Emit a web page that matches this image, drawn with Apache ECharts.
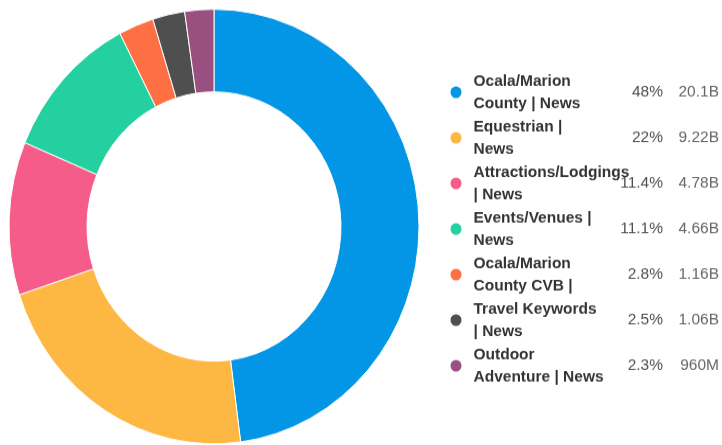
<!DOCTYPE html>
<html>
<head>
<meta charset="utf-8">
<script src="https://cdn.jsdelivr.net/npm/echarts@6/dist/echarts.min.js"></script>
<style>
  html, body { margin: 0; padding: 0; background: #fff; overflow: hidden; }
  #wrap { width: 722px; height: 445px; position: relative; }
  #chart { width: 722px; height: 420px; transform: scaleY(1.06); transform-origin: 0 0; }
</style>
</head>
<body>
<div id="wrap"><div id="chart"></div></div>
<script>
const categories = [
  'Ocala/Marion County | News',
  'Equestrian | News',
  'Attractions/Lodgings | News',
  'Events/Venues | News',
  'Ocala/Marion County CVB | News',
  'Travel Keywords | News',
  'Outdoor Adventure | News'
];
const displayNames = [
  'Ocala/Marion\nCounty | News',
  'Equestrian |\nNews',
  'Attractions/Lodgings\n| News',
  'Events/Venues |\nNews',
  'Ocala/Marion\nCounty CVB |',
  'Travel Keywords\n| News',
  'Outdoor\nAdventure | News'
];
const values = [20.1e9, 9.22e9, 4.78e9, 4.66e9, 1.16e9, 1.06e9, 0.96e9];
const valueLabels = ['20.1B', '9.22B', '4.78B', '4.66B', '1.16B', '1.06B', '960M'];
const pctLabels = ['48%', '22%', '11.4%', '11.1%', '2.8%', '2.5%', '2.3%'];
const colors = ['#0395e6', '#fdb844', '#f55c8a', '#24d09f', '#fe7043', '#4f4f4f', '#994f80'];

const chart = echarts.init(document.getElementById('chart'), null, { renderer: 'canvas' });
const idx = n => categories.indexOf(n);
const FONT = 'Liberation Sans, Arial, sans-serif';

chart.setOption({
  animation: false,
  color: colors,
  legend: [
    {
      orient: 'vertical',
      left: 443.5,
      top: 61,
      itemWidth: 25,
      itemHeight: 13,
      itemGap: 1,
      icon: 'circle',
      selectedMode: false,
      data: categories,
      formatter: n => displayNames[idx(n)],
      textStyle: {
        fontFamily: FONT,
        fontSize: 15.5,
        fontWeight: 'bold',
        color: '#333',
        lineHeight: 21
      }
    },
    {
      orient: 'vertical',
      left: 603,
      top: 61,
      itemWidth: 0,
      itemHeight: 0,
      itemGap: 1,
      icon: 'none',
      selectedMode: false,
      data: categories,
      formatter: n => '{p|' + pctLabels[idx(n)] + '}{v|' + valueLabels[idx(n)] + '}',
      textStyle: {
        fontFamily: FONT,
        fontSize: 15.5,
        color: '#555',
        lineHeight: 42,
        rich: {
          p: { width: 50, align: 'right', fontSize: 15.5, color: '#505050', lineHeight: 42, fontFamily: FONT },
          v: { width: 56, align: 'right', fontSize: 15.5, color: '#666', lineHeight: 42, fontFamily: FONT }
        }
      }
    }
  ],
  series: [{
    type: 'pie',
    center: [214, 213.7],
    radius: [127, 205],
    startAngle: 90,
    clockwise: true,
    label: { show: false },
    labelLine: { show: false },
    itemStyle: { borderColor: '#fff', borderWidth: 1 },
    emphasis: { disabled: true },
    data: categories.map((c, i) => ({ name: c, value: values[i] }))
  }]
});
</script>
</body>
</html>
